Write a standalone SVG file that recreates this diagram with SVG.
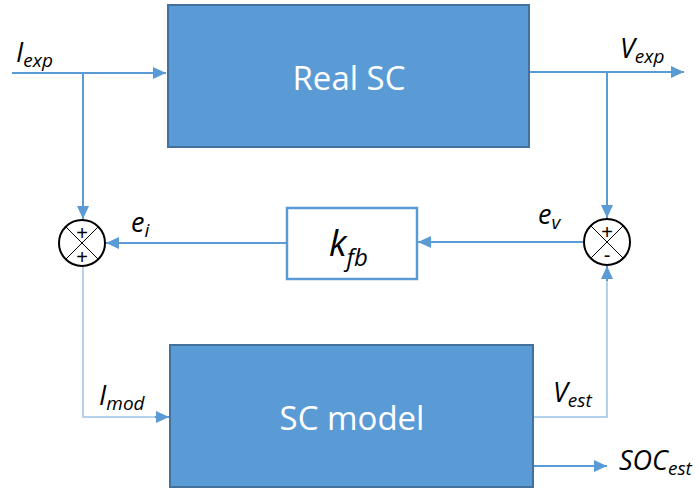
<svg xmlns="http://www.w3.org/2000/svg" width="699" height="492" viewBox="0 0 699 492">
<style>
.box{fill:#5B9BD5;stroke:#41719C;stroke-width:2}
.fb{fill:#fff;stroke:#5B9BD5;stroke-width:2.5}
.w{fill:#fff;font-family:"Open Sans",sans-serif;font-size:33px;text-anchor:middle}
.lbl{fill:#000;font-family:"Open Sans",sans-serif;font-style:italic;font-size:27px}
.sub{font-size:19px}
.line{fill:none;stroke:#5B9BD5;stroke-width:2}
.thin{fill:none;stroke:#9DC3E6;stroke-width:1.5}
.sum{fill:#fff;stroke:#000;stroke-width:2}
.x{stroke:#000;stroke-width:1}
.sg{fill:#000;font-family:"Liberation Sans",sans-serif;font-size:20px;text-anchor:middle}
</style>
<defs>
<marker id="ah" markerUnits="userSpaceOnUse" markerWidth="14" markerHeight="12" refX="13" refY="6" orient="auto">
<path d="M0,0 L13,6 L0,12 Z" fill="#5B9BD5"/>
</marker>
</defs>
<g id="connectors">
<path class="line" d="M12,73 H166" marker-end="url(#ah)"/>
<path class="line" d="M83,73 V219" marker-end="url(#ah)"/>
<path class="line" d="M529,72 H684" marker-end="url(#ah)"/>
<path class="line" d="M607,72 V218" marker-end="url(#ah)"/>
<path class="line" d="M584,242 H418" marker-end="url(#ah)"/>
<path class="line" d="M287,243 H106" marker-end="url(#ah)"/>
<path class="thin" d="M83,267 V417 H158"/>
<path class="line" d="M155,417 H169" marker-end="url(#ah)"/>
<path class="thin" d="M533,417 H607 V278"/>
<path class="line" d="M607,281 V266" marker-end="url(#ah)"/>
<path class="line" d="M533,466 H607" marker-end="url(#ah)"/>
</g>
<g id="real-sc">
<rect class="box" x="168" y="5" width="361" height="142"/>
<text class="w" x="349" y="90">Real SC</text>
</g>
<g id="sc-model">
<rect class="box" x="170" y="345" width="363" height="142"/>
<text class="w" x="352" y="430">SC model</text>
</g>
<g id="kfb">
<rect class="fb" x="287" y="208" width="130" height="71"/>
<text class="lbl" x="329" y="256" style="font-size:36px">k<tspan dy="10" style="font-size:24px">fb</tspan></text>
</g>
<g id="sum-i">
<circle class="sum" cx="82" cy="243" r="23"/>
<line class="x" x1="65.7" y1="226.7" x2="98.3" y2="259.3"/>
<line class="x" x1="98.3" y1="226.7" x2="65.7" y2="259.3"/>
<text class="sg" x="82" y="240">+</text>
<text class="sg" x="82" y="264">+</text>
</g>
<g id="sum-v">
<circle class="sum" cx="607" cy="242" r="23"/>
<line class="x" x1="590.7" y1="225.7" x2="623.3" y2="258.3"/>
<line class="x" x1="623.3" y1="225.7" x2="590.7" y2="258.3"/>
<text class="sg" x="607" y="239">+</text>
<text class="sg" x="607" y="262">-</text>
</g>
<g id="labels">
<text class="lbl" x="16" y="62">I<tspan class="sub" dy="5">exp</tspan></text>
<text class="lbl" x="620" y="58">V<tspan class="sub" dy="5">exp</tspan></text>
<text class="lbl" x="131" y="232">e<tspan class="sub" dy="5">i</tspan></text>
<text class="lbl" x="538" y="224">e<tspan class="sub" dy="5">v</tspan></text>
<text class="lbl" x="99" y="405">I<tspan class="sub" dy="5">mod</tspan></text>
<text class="lbl" x="553" y="402">V<tspan class="sub" dy="5">est</tspan></text>
<text class="lbl" x="619" y="470">SOC<tspan class="sub" dy="5">est</tspan></text>
</g>
</svg>
